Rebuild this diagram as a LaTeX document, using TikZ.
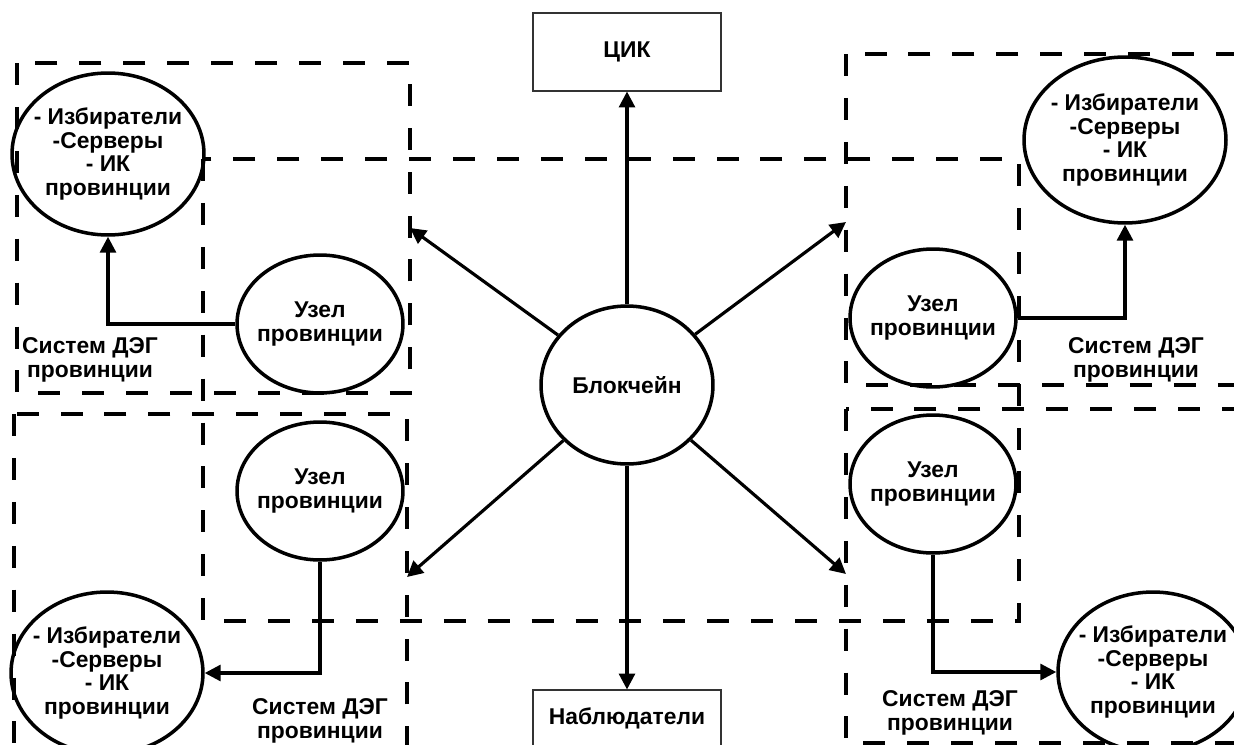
\documentclass[tikz,border=0pt]{standalone}
\usepackage{fontspec}
\setmainfont{Liberation Sans}
\usepackage{tikz}
\usetikzlibrary{shapes.geometric, arrows.meta}
\tikzstyle{chain} = [ellipse, line width=2pt, draw=black, minimum width=3.44cm, minimum height=3.16cm, inner sep=-8pt, align=center]
\tikzstyle{voters} = [ellipse, line width=2pt, draw=black, minimum width=3.84cm, minimum height=3.24cm, inner sep=-8pt, align=center]
\tikzstyle{provnode} = [ellipse, line width=2pt, draw=black, minimum width=3.32cm, minimum height=2.76cm, inner sep=-8pt, align=center]
\tikzstyle{orgbox} = [rectangle, line width=0.6pt, draw=black!80, minimum width=3.76cm, minimum height=1.56cm, align=center]
\tikzstyle{caption} = [align=center, inner sep=0pt]
\tikzstyle{zone} = [line width=2pt, dash pattern=on 12.5pt off 12.5pt]
\tikzstyle{arrow} = [line width=1.8pt, -{Triangle[length=9pt,width=9pt]}]

\begin{document}
\begin{tikzpicture}[x=0.02cm, y=-0.02cm, font=\fontsize{13}{13.4}\selectfont\bfseries]
        \useasboundingbox (0,0) rectangle (1234,744);
        \begin{scope}
        \clip (0,0) rectangle (1234,744);
        % dashed zones
        \draw [zone] (17,63) rectangle (410,393);
        \draw [zone] (846,54) rectangle (1260,385);
        \draw [zone] (14,414) rectangle (407,780);
        \draw [zone] (846,409) rectangle (1260,743);
        \draw [zone] (203,159) rectangle (1019,621);

        \node (chain) [chain] at (627,385) {Блокчейн};
        \node (cik) [orgbox] at (627,52) {ЦИК};
        \node (obs) [orgbox, minimum height=1.12cm] at (627,718) {Наблюдатели};

        \node (tlvoters) [voters] at (108,154) {- Избиратели\\-Серверы\\- ИК\\провинции};
        \node (trvoters) [voters, minimum width=4.04cm, minimum height=3.32cm] at (1125,140) {- Избиратели\\-Серверы\\- ИК\\провинции};
        \node (blvoters) [voters] at (107,673) {- Избиратели\\-Серверы\\- ИК\\провинции};
        \node (brvoters) [voters, minimum width=3.8cm, minimum height=3.2cm] at (1153,672) {- Избиратели\\-Серверы\\- ИК\\провинции};

        \node (tlnode) [provnode] at (320,324) {Узел\\провинции};
        \node (trnode) [provnode] at (933,318) {Узел\\провинции};
        \node (blnode) [provnode] at (320,491) {Узел\\провинции};
        \node (brnode) [provnode] at (933,484) {Узел\\провинции};

        \node (tlcap) [caption] at (90,360) {Систем ДЭГ\\провинции};
        \node (trcap) [caption] at (1136,360) {Систем ДЭГ\\провинции};
        \node (blcap) [caption] at (320,721) {Систем ДЭГ\\провинции};
        \node (brcap) [caption] at (950,713) {Систем ДЭГ\\провинции};

        \coordinate (tlzone) at (410,228);
        \coordinate (trzone) at (846,222);
        \coordinate (blzone) at (407,577);
        \coordinate (brzone) at (846,574);

        \draw [arrow] (chain) -- (cik);
        \draw [arrow] (chain) -- (obs);
        \draw [arrow] (chain) -- (tlzone);
        \draw [arrow] (chain) -- (trzone);
        \draw [arrow] (chain) -- (blzone);
        \draw [arrow] (chain) -- (brzone);

        \draw [arrow] (tlnode.west) -| (tlvoters.south);
        \draw [arrow] (trnode.east) -| (trvoters.south);
        \draw [arrow] (blnode.south) |- (blvoters.east);
        \draw [arrow] (brnode.south) |- (brvoters.west);
        \end{scope}
    \end{tikzpicture}
\end{document}
